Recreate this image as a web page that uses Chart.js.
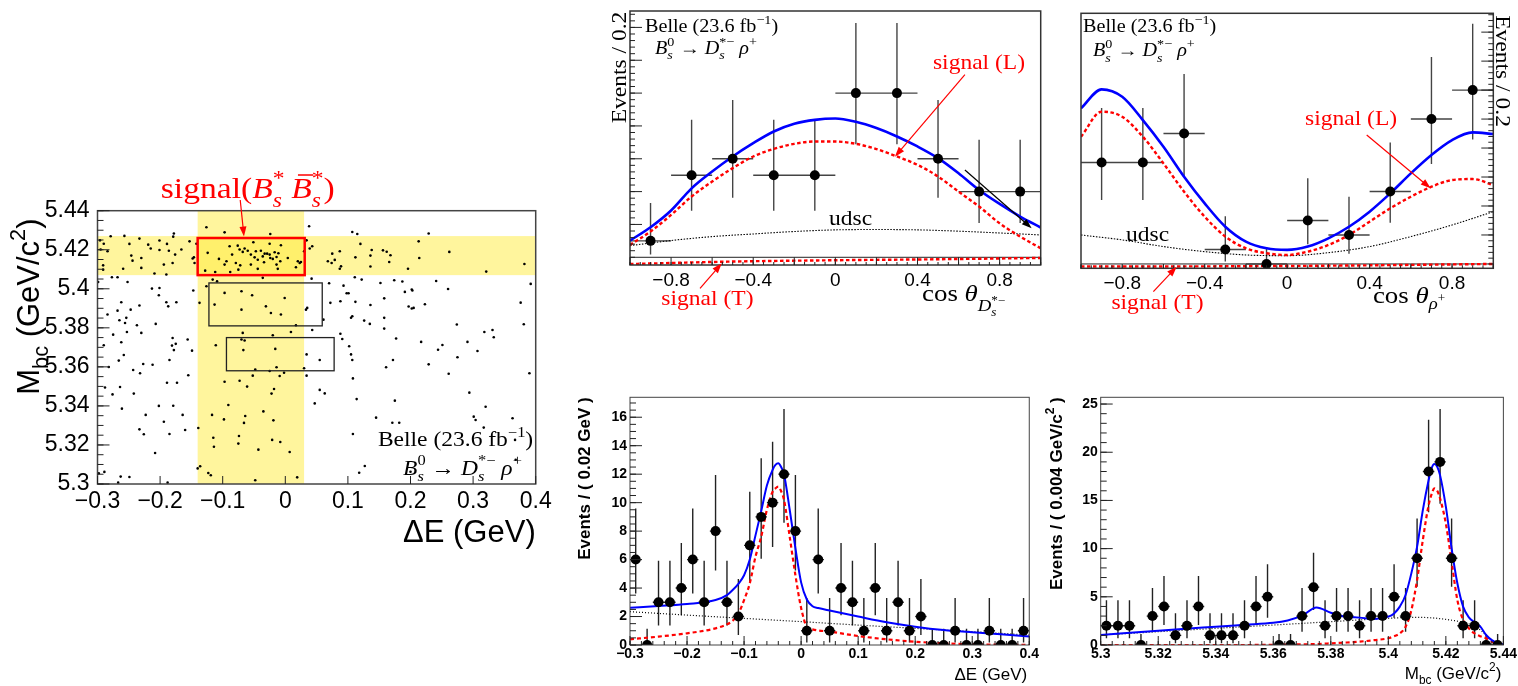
<!DOCTYPE html>
<html lang="en">
<head>
<meta charset="UTF-8">
<title>Belle Bs0 -> Ds*- rho+ (23.6 fb-1)</title>
<script src="https://cdn.jsdelivr.net/npm/chart.js"></script>
<style>
  html, body { margin: 0; padding: 0; background: #fff; }
  body { width: 1518px; height: 686px; position: relative; overflow: hidden; }
  canvas { position: absolute; }
</style>
</head>
<body>
<canvas id="cScat" width="560" height="400" style="left:0;top:160px"></canvas>
<canvas id="cHelD" width="500" height="330" style="left:560px;top:0"></canvas>
<canvas id="cHelR" width="458" height="330" style="left:1060px;top:0"></canvas>
<canvas id="cDE" width="480" height="306" style="left:560px;top:380px"></canvas>
<canvas id="cMbc" width="478" height="306" style="left:1040px;top:380px"></canvas>
<script>
// ---------- data ----------

// Mbc vs dE scatter, one [dE, Mbc] pair per event
const scatEvents = [
  [-0.126,5.4315],[-0.097,5.4289],[-0.024,5.4281],[-0.279,5.4269],[-0.257,5.4271],[-0.178,5.4283],[-0.179,5.4267],[-0.233,5.4257],
  [-0.201,5.4247],[-0.153,5.4243],[-0.296,5.4248],[-0.290,5.4231],[-0.249,5.4230],[-0.219,5.4226],[-0.189,5.4230],[-0.142,5.4231],
  [-0.215,5.4206],[-0.201,5.4199],[-0.166,5.4201],[-0.295,5.4201],[-0.284,5.4192],[-0.186,5.4195],[-0.176,5.4175],[-0.246,5.4170],
  [-0.230,5.4158],[-0.146,5.4161],[-0.148,5.4155],[-0.244,5.4144],[-0.180,5.4132],[-0.194,5.4124],[-0.291,5.4120],[-0.145,5.4132],
  [-0.230,5.4107],[-0.291,5.4098],[-0.209,5.4078],[-0.190,5.4073],[-0.259,5.4103],
  [-0.089,5.4218],[-0.076,5.4221],[-0.051,5.4238],[-0.025,5.4231],[-0.007,5.4223],[-0.065,5.4206],[-0.060,5.4195],[-0.047,5.4192],
  [-0.039,5.4195],[-0.033,5.4180],[-0.029,5.4180],[-0.025,5.4175],[-0.017,5.4187],[-0.011,5.4182],[-0.124,5.4184],[-0.106,5.4153],
  [-0.094,5.4141],[-0.085,5.4175],[-0.055,5.4175],[-0.049,5.4161],[-0.044,5.4149],[-0.036,5.4166],[-0.024,5.4158],[-0.020,5.4153],
  [-0.014,5.4163],[-0.008,5.4141],[-0.097,5.4124],[-0.079,5.4132],[-0.072,5.4120],[-0.055,5.4124],[-0.044,5.4102],[-0.034,5.4136],
  [-0.014,5.4124],[-0.012,5.4102],[-0.128,5.4093],[-0.112,5.4086],[-0.088,5.4086],[-0.075,5.4098],[0.004,5.4158],[-0.073,5.4201],
  [-0.068,5.4189],
  [-0.277,5.4059],[-0.268,5.4059],[-0.116,5.4047],[-0.109,5.4038],[-0.036,5.4056],[-0.252,5.4035],[-0.126,5.4013],[-0.213,5.4001],
  [-0.201,5.4004],[-0.299,5.4035],[-0.147,5.3991],[-0.097,5.3979],[-0.070,5.3987],[-0.053,5.3967],[-0.202,5.3967],[-0.190,5.3931],
  [-0.187,5.3910],[-0.174,5.3931],[-0.262,5.3931],[-0.268,5.3888],[-0.247,5.3893],[-0.233,5.3914],[-0.137,5.3928],[-0.113,5.3919],
  [-0.001,5.3953],[-0.031,5.3910],[-0.023,5.3876],[-0.070,5.3893],[-0.284,5.3868],[-0.254,5.3851],[-0.265,5.3839],[-0.007,5.3868],
  [-0.237,5.3813],[-0.256,5.3825],[-0.207,5.3820],[-0.230,5.3774],[-0.275,5.3765],[-0.253,5.3779],[-0.068,5.3774],[-0.070,5.3740],
  [-0.020,5.3762],[0.009,5.3779],[-0.180,5.3748],[-0.156,5.3740],[-0.262,5.3726],[-0.175,5.3718],[-0.111,5.3711],[-0.065,5.3735],
  [-0.290,5.3711],[-0.181,5.3709],
  [0.038,5.4320],[0.107,5.4291],[0.115,5.4281],[0.229,5.4283],[0.034,5.4248],[0.043,5.4218],[0.039,5.4206],[0.120,5.4230],
  [0.213,5.4243],[0.138,5.4199],[0.156,5.4197],[0.162,5.4190],[0.168,5.4172],[0.087,5.4192],[0.075,5.4180],[0.112,5.4161],
  [0.136,5.4170],[0.262,5.4189],[0.214,5.4158],[0.030,5.4192],[0.068,5.4141],[0.074,5.4132],[0.079,5.4148],[0.020,5.4141],
  [0.023,5.4132],[0.025,5.4137],[0.017,5.4110],[0.089,5.4115],[0.087,5.4103],[0.136,5.4114],[0.166,5.4137],[0.196,5.4103],
  [0.321,5.4088],[0.042,5.4052],[0.111,5.4059],[0.122,5.4047],[0.174,5.4044],[0.187,5.4037],[0.241,5.4040],[0.152,5.4030],
  [0.070,5.4028],[0.093,5.4016],[0.202,5.3996],[0.203,5.3991],[0.191,5.3984],[0.260,5.3999],[0.098,5.3977],[0.101,5.3977],
  [0.158,5.3951],[0.072,5.3928],[0.088,5.3936],[0.112,5.3933],[0.136,5.3917],[0.223,5.3921],[0.197,5.3909],[0.202,5.3899],
  [0.205,5.3902],[0.035,5.3902],[0.033,5.3893],[0.107,5.3859],[0.105,5.3852],[0.158,5.3851],[0.061,5.3842],[0.126,5.3837],
  [0.135,5.3820],[0.017,5.3813],[0.274,5.3817],[0.043,5.3789],[0.158,5.3796],[0.318,5.3779],[0.331,5.3789],[0.333,5.3752],
  [0.088,5.3770],[0.091,5.3743],[0.177,5.3745],[0.217,5.3728],[0.251,5.3712],[0.291,5.3728],[0.102,5.3706],
  [-0.178,5.3686],[-0.149,5.3683],[-0.258,5.3661],[-0.266,5.3632],[-0.185,5.3635],[-0.227,5.3615],[-0.212,5.3611],[-0.282,5.3599],
  [-0.243,5.3584],[-0.232,5.3567],[-0.155,5.3557],[-0.067,5.3686],[-0.016,5.3692],[-0.048,5.3586],[-0.014,5.3598],[-0.025,5.3579],
  [-0.002,5.3570],[-0.052,5.3555],[-0.009,5.3553],[-0.097,5.3524],[-0.073,5.3529],[-0.189,5.3519],[-0.173,5.3519],[-0.061,5.3499],
  [-0.264,5.3497],[-0.288,5.3494],[-0.018,5.3487],[-0.242,5.3463],[-0.276,5.3459],[-0.022,5.3463],[-0.202,5.3400],[-0.179,5.3401],
  [-0.261,5.3386],[-0.091,5.3405],[-0.035,5.3372],[-0.223,5.3354],[-0.164,5.3354],[-0.117,5.3354],[-0.064,5.3348],[-0.098,5.3331],
  [-0.019,5.3326],[-0.194,5.3319],[-0.066,5.3313],[-0.139,5.3287],[-0.233,5.3280],[-0.160,5.3277],[-0.226,5.3255],[-0.185,5.3256],
  [-0.074,5.3246],[-0.115,5.3237],[-0.021,5.3226],[-0.008,5.3215],[-0.075,5.3207],[-0.114,5.3191],[-0.043,5.3176],[0.007,5.3164],
  [-0.208,5.3159],[-0.136,5.3091],[-0.140,5.3080],[-0.289,5.3062],[-0.298,5.3055],[-0.123,5.3056],[-0.119,5.3045],[-0.263,5.3038],
  [-0.249,5.3036],[-0.048,5.3019],[-0.188,5.3007],[-0.267,5.3007],
  [0.034,5.3664],[0.055,5.3635],[0.030,5.3593],[0.034,5.3555],[0.105,5.3664],[0.107,5.3635],[0.172,5.3635],[0.161,5.3598],
  [0.244,5.3688],[0.275,5.3649],[0.307,5.3681],[0.229,5.3613],[0.261,5.3565],[0.108,5.3541],[0.055,5.3482],[0.063,5.3464],
  [0.047,5.3413],[0.114,5.3435],[0.175,5.3427],[0.294,5.3468],[0.320,5.3396],[0.145,5.3340],[0.171,5.3314],[0.182,5.3314],
  [0.301,5.3345],[0.304,5.3328],[0.317,5.3289],[0.108,5.3256],[0.127,5.3092],[0.118,5.3058],[0.019,5.3034],[0.200,5.3063],
  [0.382,5.4127],[0.392,5.4025],[0.376,5.3929],[0.381,5.3818],[0.390,5.3567],[0.363,5.3337],[0.367,5.3226],[0.368,5.3124]
];
const bandDE = [-0.14, 0.03];           // signal dE window
const bandMbc = [5.407, 5.427];         // signal Mbc window
const sigBox = [-0.14, 0.031, 5.407, 5.426];   // dE0, dE1, Mbc0, Mbc1
const sideBox1 = [-0.122, 0.059, 5.381, 5.403];
const sideBox2 = [-0.094, 0.078, 5.358, 5.375];
const scatXTicks = [-0.3, -0.2, -0.1, 0, 0.1, 0.2, 0.3, 0.4];
const scatYTicks = [5.3, 5.32, 5.34, 5.36, 5.38, 5.4, 5.42, 5.44];

// helicity distributions (bins of 0.2)
const helBins = [-0.9, -0.7, -0.5, -0.3, -0.1, 0.1, 0.3, 0.5, 0.7, 0.9];
const helDsCounts = [1, 5, 6, 5, 5, 10, 10, 6, 4, 4];
const helRhoCounts = [7, 7, 9, 1, 0, 3, 2, 5, 10, 12];
const helCurveX = [-1, -0.9, -0.8, -0.7, -0.6, -0.5, -0.4, -0.3, -0.2, -0.1, 0, 0.1, 0.2, 0.3, 0.4, 0.5, 0.6, 0.7, 0.8, 0.9, 1];
const helDsTotal = [1.02, 1.83, 2.85, 4.2, 5.22, 6.14, 6.95, 7.66, 8.13, 8.37, 8.45, 8.25, 7.87, 7.36, 6.75, 6.04, 5.12, 4.1, 3.25, 2.48, 1.81];
const helDsSigL = [0.75, 1.57, 2.58, 3.7, 4.61, 5.43, 6.14, 6.6, 6.91, 7.05, 7.05, 6.91, 6.59, 6.14, 5.63, 4.92, 4.0, 3.09, 2.07, 1.26, 0.55];
const helRhoTotal = [10.74, 12.05, 11.54, 9.93, 8.09, 6.02, 4.18, 2.57, 1.54, 1.08, 0.97, 1.2, 1.77, 2.57, 3.61, 4.87, 6.25, 7.52, 8.55, 9.08, 8.97];
const helRhoSigL = [8.78, 10.51, 10.16, 8.78, 6.94, 4.99, 3.26, 1.89, 1.08, 0.74, 0.62, 0.85, 1.31, 2.0, 2.92, 3.84, 4.64, 5.33, 5.79, 5.86, 5.45];
const helBkgX = [-1, -0.8, -0.6, -0.4, -0.2, 0, 0.2, 0.4, 0.6, 0.8, 1];
const helDsUdsc = [0.71, 1.02, 1.26, 1.42, 1.57, 1.67, 1.69, 1.67, 1.59, 1.48, 1.36];
const helRhoUdsc = [2.0, 1.66, 1.2, 0.85, 0.62, 0.57, 0.78, 1.2, 1.89, 2.69, 3.61];
const helSigTX = [-1, -0.5, 0, 0.5, 1];
const helDsSigT = [-0.41, -0.26, -0.18, -0.12, -0.04];
const helRhoSigT = [-0.18, -0.17, -0.14, -0.08, 0.0];
const helXTicks = [-0.8, -0.4, 0, 0.4, 0.8];

// dE projection (bins of 0.02 GeV)
const deBins = [-0.29, -0.27, -0.25, -0.23, -0.21, -0.19, -0.17, -0.15, -0.13, -0.11, -0.09, -0.07, -0.05, -0.03, -0.01,
                0.01, 0.03, 0.05, 0.07, 0.09, 0.11, 0.13, 0.15, 0.17, 0.19, 0.21, 0.23, 0.25, 0.27, 0.29, 0.31, 0.33, 0.35, 0.37, 0.39];
const deCounts = [6, 0, 3, 3, 4, 6, 3, 8, 3, 2, 7, 9, 10, 12, 8, 1, 6, 1, 4, 3, 1, 4, 1, 3, 1, 2, 0, 0, 1, 0, 0, 1, 0, 0, 1];
const deCurveX = [-0.3, -0.25, -0.2, -0.15, -0.13, -0.12, -0.11, -0.1, -0.09, -0.08, -0.07, -0.06, -0.05, -0.045, -0.04, -0.035,
                  -0.03, -0.02, -0.01, 0, 0.01, 0.02, 0.03, 0.05, 0.1, 0.15, 0.2, 0.25, 0.3, 0.35, 0.4];
const deTotal = [2.62, 2.74, 2.88, 3.16, 3.5, 3.86, 4.3, 4.9, 6.0, 7.7, 9.4, 11.2, 12.3, 12.65, 12.76, 12.5,
                 12.0, 9.5, 6.8, 4.4, 3.2, 2.72, 2.6, 2.42, 2.0, 1.6, 1.29, 1.05, 0.89, 0.75, 0.59];
const deSig = [0.4, 0.59, 0.82, 1.17, 1.45, 1.7, 2.2, 3.16, 4.33, 6.2, 7.6, 9.5, 10.77, 11.0, 11.12, 10.8,
               10.2, 7.6, 4.9, 2.6, 1.29, 1.1, 1.02, 0.94, 0.63, 0.4, 0.23, 0.12, 0.05, 0.02, 0.0];
const deBkgX = [-0.3, -0.2, -0.1, 0, 0.1, 0.2, 0.3, 0.4];
const deBkg = [2.34, 2.1, 1.87, 1.64, 1.4, 1.17, 0.94, 0.7];
const deXTicks = [-0.3, -0.2, -0.1, 0, 0.1, 0.2, 0.3, 0.4];
const deYTicks = [0, 2, 4, 6, 8, 10, 12, 14, 16];

// Mbc projection (bins of 0.004 GeV/c2)
const mbcBins = [5.302, 5.306, 5.310, 5.314, 5.318, 5.322, 5.326, 5.330, 5.334, 5.338, 5.342, 5.346, 5.350, 5.354, 5.358, 5.362, 5.366, 5.370,
                 5.374, 5.378, 5.382, 5.386, 5.390, 5.394, 5.398, 5.402, 5.406, 5.410, 5.414, 5.418, 5.422, 5.426, 5.430, 5.434, 5.438];
const mbcCounts = [2, 2, 2, 0, 3, 4, 1, 2, 4, 1, 1, 1, 2, 4, 5, 0, 0, 3, 6, 2, 3, 3, 2, 3, 3, 5, 3, 9, 18, 19, 9, 2, 2, 0, 0];
const mbcCurveX = [5.3, 5.32, 5.34, 5.35, 5.36, 5.365, 5.37, 5.375, 5.38, 5.385, 5.39, 5.395, 5.4, 5.402, 5.404, 5.406, 5.408, 5.41,
                   5.412, 5.414, 5.415, 5.416, 5.417, 5.418, 5.42, 5.422, 5.424, 5.426, 5.428, 5.43, 5.432, 5.434, 5.436, 5.438, 5.44];
const mbcTotal = [1.04, 1.49, 1.9, 2.1, 2.3, 2.55, 3.04, 3.9, 3.35, 2.94, 2.84, 2.7, 2.94, 3.28, 3.98, 5.19, 7.43, 10.2,
                  14.0, 17.1, 18.3, 18.78, 18.5, 17.6, 14.35, 10.03, 6.4, 3.98, 2.87, 2.35, 1.9, 1.04, 0.5, 0.2, 0.07];
const mbcSig = [0, 0, 0, 0, 0.02, 0.04, 0.07, 0.1, 0.17, 0.25, 0.35, 0.5, 0.7, 0.9, 1.2, 1.9, 3.6, 6.74,
                10.9, 14.5, 15.6, 16.25, 16.0, 15.2, 12.6, 8.64, 4.67, 2.6, 1.73, 1.2, 0.9, 0.7, 0.35, 0.15, 0.07];
const mbcBkgX = [5.3, 5.32, 5.34, 5.36, 5.38, 5.39, 5.4, 5.41, 5.415, 5.42, 5.425, 5.428, 5.43, 5.432, 5.434, 5.436, 5.438, 5.44];
const mbcBkg = [1.04, 1.38, 1.73, 2.07, 2.42, 2.6, 2.77, 2.87, 2.82, 2.66, 2.42, 2.2, 1.9, 1.55, 1.0, 0.5, 0.2, 0];
const mbcXTicks = [5.3, 5.32, 5.34, 5.36, 5.38, 5.4, 5.42, 5.44];
const mbcYTicks = [0, 5, 10, 15, 20, 25];

// 68% central Poisson intervals for n = 0..19 (as RooFit draws them)
const poisDn = [0, 0.827, 1.292, 1.633, 1.914, 2.160, 2.380, 2.582, 2.768, 2.944, 3.109, 3.267, 3.418, 3.563, 3.703, 3.839, 3.970, 4.098, 4.222, 4.343];
const poisUp = [1.148, 2.300, 2.638, 2.918, 3.163, 3.382, 3.584, 3.772, 3.949, 4.116, 4.276, 4.428, 4.575, 4.717, 4.854, 4.987, 5.116, 5.242, 5.365, 5.484];

// ---------- helpers ----------
const SERIF = '"Liberation Serif", "DejaVu Serif", serif';
const SANS = '"Liberation Sans", Arial, sans-serif';
const RED = '#ff0000', BLUE = '#0000ff';

function range(a, b, step) {
  const out = [];
  for (let v = a; v <= b + step * 1e-6; v += step) out.push(+v.toFixed(6));
  return out;
}
function fmtTick(v) { return String(+(+v).toFixed(4)).replace('-', '\u2212'); }
function pts(xs, ys) { return xs.map((x, i) => ({ x, y: ys[i] })); }

// text with sub/superscripts, anchored at its vertical centre
function drawRich(ctx, items, px, py, o) {
  const size = o.size, fam = o.family || SERIF, hs = o.hs || 1, wt = o.weight || 'normal';
  const fontOf = (it, s) => (it ? 'italic ' : 'normal ') + wt + ' ' + s + 'px ' + fam;
  if (typeof items === 'string') items = [{ t: items }];
  const runs = [];
  let w = 0;
  for (const p of items) {
    const s = size * (p.scale || 1), dy = (p.dy || 0) * size;
    let f = fontOf(p.it, s);
    ctx.font = f;
    const bw = p.t ? ctx.measureText(p.t).width : 0;
    if (p.t) runs.push({ t: p.t, f, x: w, y: dy, bar: p.bar ? bw : 0, s });
    w += bw;
    let adv = 0;
    if (p.sub) {
      f = fontOf(p.subIt, s * 0.7); ctx.font = f;
      adv = Math.max(adv, ctx.measureText(p.sub).width);
      runs.push({ t: p.sub, f, x: w, y: dy + 0.3 * s });
    }
    if (p.sup) {
      f = fontOf(p.supIt, s * 0.7); ctx.font = f;
      adv = Math.max(adv, ctx.measureText(p.sup).width);
      runs.push({ t: p.sup, f, x: w, y: dy - 0.45 * s });
    }
    w += adv;
  }
  ctx.save();
  ctx.translate(px, py);
  if (o.rot) ctx.rotate(o.rot);
  ctx.scale(hs, 1);
  const x0 = o.align === 'right' ? -w : o.align === 'center' ? -w / 2 : 0;
  const base = 0.34 * size;
  ctx.fillStyle = o.color || '#000';
  ctx.textAlign = 'left';
  ctx.textBaseline = 'alphabetic';
  for (const r of runs) {
    ctx.font = r.f;
    ctx.fillText(r.t, x0 + r.x, base + r.y);
    if (r.bar) ctx.fillRect(x0 + r.x + 0.2 * r.s, base + r.y - 0.8 * r.s, r.bar * 0.75, Math.max(1, 0.05 * r.s));
  }
  ctx.restore();
}

// per-canvas decorations: bands, boxes, frame, inside ticks, arrows, labels, error bars
const decoCfg = {};
const deco = {
  id: 'deco',
  beforeDatasetsDraw(chart) {
    const o = decoCfg[chart.canvas.id];
    const { ctx, chartArea: a } = chart, x = chart.scales.x, y = chart.scales.y;
    ctx.save();
    ctx.beginPath();
    ctx.rect(a.left, a.top, a.right - a.left, a.bottom - a.top);
    ctx.clip();
    (o.bands || []).forEach(b => {
      ctx.fillStyle = b.color;
      if (b.x) {
        const p0 = x.getPixelForValue(b.x[0]), p1 = x.getPixelForValue(b.x[1]);
        ctx.fillRect(p0, a.top, p1 - p0, a.bottom - a.top);
      } else {
        const p0 = y.getPixelForValue(b.y[1]), p1 = y.getPixelForValue(b.y[0]);
        ctx.fillRect(a.left, p0, a.right - a.left, p1 - p0);
      }
    });
    (o.hlines || []).forEach(h => {
      const p = y.getPixelForValue(h.y);
      ctx.strokeStyle = h.color; ctx.lineWidth = h.width;
      ctx.beginPath(); ctx.moveTo(a.left, p); ctx.lineTo(a.right, p); ctx.stroke();
    });
    chart.data.datasets.forEach(ds => {
      if (!ds.errY) return;
      ctx.strokeStyle = ds.errColor; ctx.lineWidth = ds.errWidth;
      ctx.beginPath();
      ds.data.forEach((p, i) => {
        const px = x.getPixelForValue(p.x), py = y.getPixelForValue(p.y);
        ctx.moveTo(px, y.getPixelForValue(p.y - ds.errY.lo[i]));
        ctx.lineTo(px, y.getPixelForValue(p.y + ds.errY.hi[i]));
        ctx.moveTo(x.getPixelForValue(p.x - ds.errX), py);
        ctx.lineTo(x.getPixelForValue(p.x + ds.errX), py);
      });
      ctx.stroke();
    });
    ctx.restore();
  },
  afterDatasetsDraw(chart) {
    const o = decoCfg[chart.canvas.id];
    const { ctx, chartArea: a } = chart, x = chart.scales.x, y = chart.scales.y;
    ctx.save();
    (o.rects || []).forEach(r => {
      const X0 = x.getPixelForValue(r.box[0]), X1 = x.getPixelForValue(r.box[1]);
      const Y0 = y.getPixelForValue(r.box[3]), Y1 = y.getPixelForValue(r.box[2]);
      ctx.strokeStyle = r.color; ctx.lineWidth = r.width;
      ctx.strokeRect(X0, Y0, X1 - X0, Y1 - Y0);
    });
    ctx.strokeStyle = o.frame.color; ctx.lineWidth = o.frame.width;
    ctx.strokeRect(a.left, a.top, a.right - a.left, a.bottom - a.top);
    ctx.strokeStyle = '#222'; ctx.lineWidth = 1;
    (o.ticks || []).forEach(t => {
      const sc = t.axis === 'x' ? x : y;
      ctx.beginPath();
      t.vals.forEach(v => {
        if (v < sc.min - 1e-9 || v > sc.max + 1e-9) return;
        const p = sc.getPixelForValue(v);
        if (t.side === 'bottom') { ctx.moveTo(p, a.bottom); ctx.lineTo(p, a.bottom - t.len); }
        else if (t.side === 'left') { ctx.moveTo(a.left, p); ctx.lineTo(a.left + t.len, p); }
        else { ctx.moveTo(a.right, p); ctx.lineTo(a.right - t.len, p); }
      });
      ctx.stroke();
    });
    (o.arrows || []).forEach(r => {
      const x1 = x.getPixelForValue(r.from[0]), y1 = y.getPixelForValue(r.from[1]);
      const x2 = x.getPixelForValue(r.to[0]), y2 = y.getPixelForValue(r.to[1]);
      const ang = Math.atan2(y2 - y1, x2 - x1), L = 10, W = 3.5;
      const c = Math.cos(ang), s = Math.sin(ang);
      ctx.strokeStyle = ctx.fillStyle = r.color; ctx.lineWidth = 1.2;
      ctx.beginPath(); ctx.moveTo(x1, y1); ctx.lineTo(x2 - L * 0.8 * c, y2 - L * 0.8 * s); ctx.stroke();
      ctx.beginPath(); ctx.moveTo(x2, y2);
      ctx.lineTo(x2 - L * c + W * s, y2 - L * s - W * c);
      ctx.lineTo(x2 - L * c - W * s, y2 - L * s + W * c);
      ctx.closePath(); ctx.fill();
    });
    (o.texts || []).forEach(t => drawRich(ctx, t.items, x.getPixelForValue(t.at[0]), y.getPixelForValue(t.at[1]), t));
    ctx.restore();
  }
};

function axis(o) {
  return {
    type: 'linear', position: o.pos, min: o.min, max: o.max,
    grid: { display: false, drawTicks: false }, border: { display: false },
    afterFit: s => { if (s.isHorizontal()) s.height = o.size; else s.width = o.size; },
    afterBuildTicks: s => { s.ticks = (o.labels || []).map(v => ({ value: v })); },
    ticks: { display: !!o.labels, autoSkip: false, maxRotation: 0, padding: o.pad || 3, color: '#000',
             font: o.font, callback: v => fmtTick(v) }
  };
}

function plot(id, pad, xAx, yAx, datasets) {
  return new Chart(document.getElementById(id), {
    type: 'scatter',
    data: { datasets },
    options: {
      responsive: false, animation: false, devicePixelRatio: 1,
      layout: { padding: pad },
      plugins: { legend: { display: false }, tooltip: { enabled: false } },
      scales: { x: axis(xAx), y: axis(yAx) }
    },
    plugins: [deco]
  });
}

function dataSet(bins, counts, halfW, r, errColor) {
  return { data: pts(bins, counts), pointRadius: r, pointBackgroundColor: '#000', pointBorderWidth: 0,
           errY: { lo: counts.map(n => poisDn[n]), hi: counts.map(n => poisUp[n]) }, errX: halfW,
           errColor, errWidth: 1.4 };
}
function curve(xs, ys, color, width, dash) {
  return { type: 'line', data: pts(xs, ys), borderColor: color, borderWidth: width, borderDash: dash || [],
           pointRadius: 0, fill: false, cubicInterpolationMode: 'monotone' };
}

const decayLabel = [{ t: 'B', it: 1, sub: 's', subIt: 1, sup: '0' }, { t: ' \u2192 ' },
                    { t: 'D', it: 1, sub: 's', subIt: 1, sup: '*\u2212' }, { t: ' ' }, { t: '\u03c1', it: 1, sup: '+' }];
const belleLabel = [{ t: 'Belle (23.6 fb' }, { t: '', sup: '\u22121' }, { t: ')' }];
const HS = 1.12;

// ---------- Mbc vs dE scatter ----------
const YEL = 'rgba(255,235,60,0.5)';
decoCfg.cScat = {
  bands: [{ x: bandDE, color: YEL }, { y: bandMbc, color: YEL }],
  rects: [{ box: sigBox, color: RED, width: 2.5 }, { box: sideBox1, color: '#222', width: 1.3 }, { box: sideBox2, color: '#222', width: 1.3 }],
  frame: { color: '#444', width: 1.5 },
  ticks: [{ axis: 'y', side: 'left', vals: scatYTicks, len: 12 }, { axis: 'y', side: 'left', vals: range(5.3, 5.44, 0.005), len: 6 },
          { axis: 'x', side: 'bottom', vals: scatXTicks, len: 8 }],
  arrows: [{ from: [-0.072, 5.4455], to: [-0.066, 5.4268], color: RED }],
  texts: [
    { at: [-0.06, 5.4516], size: 30, color: RED, align: 'center', hs: HS,
      items: [{ t: 'signal(' }, { t: 'B', it: 1, sub: 's', subIt: 1, sup: '*' }, { t: '\u2009' },
              { t: 'B', it: 1, bar: 1, sub: 's', subIt: 1, sup: '*' }, { t: ')' }] },
    { at: [0.396, 5.3231], size: 21, align: 'right', hs: HS, items: belleLabel },
    { at: [0.378, 5.3083], size: 21, align: 'right', hs: HS, items: decayLabel },
    { at: [0.4, 5.2755], size: 31, align: 'right', family: SANS, items: '\u0394E (GeV)' },
    { at: [-0.41, 5.436], size: 31, align: 'right', family: SANS, rot: -Math.PI / 2,
      items: [{ t: 'M', sub: 'bc' }, { t: ' (GeV/c' }, { t: '', sup: '2' }, { t: ')' }] }
  ]
};
plot('cScat', { left: 0, top: 50.7, right: 24.3, bottom: 0 },
  { pos: 'bottom', min: -0.3, max: 0.4, size: 76, labels: scatXTicks, pad: 4, font: { family: SANS, size: 23 } },
  { pos: 'left', min: 5.3, max: 5.44, size: 97.5, labels: scatYTicks, pad: 8, font: { family: SANS, size: 23 } },
  [{ data: scatEvents.map(e => ({ x: e[0], y: e[1] })), pointRadius: 1.3, pointBackgroundColor: '#000', pointBorderWidth: 0 }]);

// ---------- cos theta(Ds*) ----------
function helDeco(side, yMax, tickLenX, t) {
  return {
    hlines: [{ y: 0, color: '#222', width: 1 }],
    frame: { color: '#333', width: 1.5 },
    ticks: [{ axis: 'y', side, vals: range(2, 16, 2), len: 12 }, { axis: 'y', side, vals: range(0, yMax, 0.4), len: 5 },
            { axis: 'x', side: 'bottom', vals: range(-1, 1, 0.2), len: tickLenX }, { axis: 'x', side: 'bottom', vals: range(-1, 1, 0.05), len: 3 }],
    arrows: t.arrows,
    texts: t.texts
  };
}
decoCfg.cHelD = helDeco('left', 15, 7.7, {
  arrows: [{ from: [0.631, 11.12], to: [0.29, 6.13], color: RED }, { from: [-0.659, -1.89], to: [-0.553, -0.37], color: RED },
           { from: [0.631, 5.32], to: [0.956, 1.77], color: '#000' }],
  texts: [
    { at: [-0.927, 14.1], size: 18, hs: HS, items: belleLabel },
    { at: [-0.878, 12.76], size: 18, hs: HS, items: decayLabel },
    { at: [0.6995, 11.93], size: 21, hs: HS, color: RED, align: 'center', items: 'signal (L)' },
    { at: [0.074, 2.4], size: 21, hs: HS, align: 'center', items: 'udsc' },
    { at: [-0.623, -2.48], size: 21, hs: HS, color: RED, align: 'center', items: 'signal (T)' },
    { at: [0.422, -2.18], size: 24, hs: HS,
      items: [{ t: 'cos ' }, { t: '\u03b8', it: 1 }, { t: 'D', it: 1, scale: 0.7, dy: 0.42, sub: 's', subIt: 1, sup: '*\u2212' }] },
    { at: [-1.054, 14.96], size: 21, hs: HS, align: 'right', rot: -Math.PI / 2, items: 'Events / 0.2' }
  ]
});
plot('cHelD', { left: 0, top: 11, right: 19.3, bottom: 0 },
  { pos: 'bottom', min: -1, max: 1, size: 65, labels: helXTicks, pad: 4, font: { family: SANS, size: 19 } },
  { pos: 'left', min: -0.47, max: 15, size: 70 },
  [dataSet(helBins, helDsCounts, 0.1, 5, '#444'),
   curve(helCurveX, helDsTotal, BLUE, 2.6),
   curve(helCurveX, helDsSigL, RED, 2.4, [3.5, 2.5]),
   curve(helBkgX, helDsUdsc, '#000', 1.1, [1.5, 1.5]),
   curve(helSigTX, helDsSigT, RED, 2.4, [3.5, 2.5])]);

// ---------- cos theta(rho) ----------
decoCfg.cHelR = helDeco('right', 17.3, 4.3, {
  arrows: [{ from: [0.386, 8.9], to: [0.696, 5.22], color: RED }, { from: [-0.649, -1.91], to: [-0.536, -0.19], color: RED }],
  texts: [
    { at: [-0.99, 16.41], size: 18, hs: HS, items: belleLabel },
    { at: [-0.942, 14.76], size: 18, hs: HS, items: decayLabel },
    { at: [0.31, 10.07], size: 21, hs: HS, color: RED, align: 'center', items: 'signal (L)' },
    { at: [-0.677, 2.07], size: 21, hs: HS, align: 'center', items: 'udsc' },
    { at: [-0.629, -2.6], size: 21, hs: HS, color: RED, align: 'center', items: 'signal (T)' },
    { at: [0.416, -2.14], size: 24, hs: HS,
      items: [{ t: 'cos ' }, { t: '\u03b8', it: 1 }, { t: '\u03c1', it: 1, scale: 0.7, dy: 0.25, sup: '+' }] },
    { at: [1.047, 17.17], size: 21, hs: HS, align: 'left', rot: Math.PI / 2, items: 'Events / 0.2' }
  ]
});
plot('cHelR', { left: 21, top: 13.3, right: 0, bottom: 0 },
  { pos: 'bottom', min: -1, max: 1, size: 61.7, labels: helXTicks, pad: 4, font: { family: SANS, size: 19 } },
  { pos: 'right', min: -0.3, max: 17.3, size: 24.7 },
  [dataSet(helBins, helRhoCounts, 0.1, 5, '#444'),
   curve(helCurveX, helRhoTotal, BLUE, 2.6),
   curve(helCurveX, helRhoSigL, RED, 2.4, [3.5, 2.5]),
   curve(helBkgX, helRhoUdsc, '#000', 1.1, [1.5, 1.5]),
   curve(helSigTX, helRhoSigT, RED, 2.4, [3.5, 2.5])]);

// ---------- dE projection ----------
decoCfg.cDE = {
  frame: { color: '#444', width: 1 },
  ticks: [{ axis: 'y', side: 'left', vals: deYTicks, len: 12 }, { axis: 'y', side: 'left', vals: range(0, 17, 0.5), len: 6 },
          { axis: 'x', side: 'bottom', vals: deXTicks, len: 9 }, { axis: 'x', side: 'bottom', vals: range(-0.3, 0.4, 0.02), len: 4 }],
  texts: [
    { at: [0.3965, -2.04], size: 17, family: SANS, align: 'right', items: '\u0394E (GeV)' },
    { at: [-0.3807, 17.4], size: 17, family: SANS, weight: 'bold', align: 'right', rot: -Math.PI / 2, items: 'Events / ( 0.02 GeV )' }
  ]
};
plot('cDE', { left: 0, top: 17.3, right: 5, bottom: 0 },
  { pos: 'bottom', min: -0.3, max: 0.4, size: 41, labels: deXTicks, pad: 1, font: { family: SANS, size: 14, weight: 'bold' } },
  { pos: 'left', min: 0, max: 17.4, size: 70, labels: deYTicks, pad: 3, font: { family: SANS, size: 14, weight: 'bold' } },
  [dataSet(deBins, deCounts, 0.01, 5, '#222'),
   curve(deCurveX, deTotal, BLUE, 2),
   curve(deCurveX, deSig, RED, 2.2, [4, 3]),
   curve(deBkgX, deBkg, '#000', 1.2, [1, 2])]);

// ---------- Mbc projection ----------
decoCfg.cMbc = {
  frame: { color: '#444', width: 1 },
  ticks: [{ axis: 'y', side: 'left', vals: mbcYTicks, len: 12 }, { axis: 'y', side: 'left', vals: range(0, 25, 1), len: 6 },
          { axis: 'x', side: 'bottom', vals: mbcXTicks, len: 9 }, { axis: 'x', side: 'bottom', vals: range(5.3, 5.44, 0.004), len: 4 }],
  texts: [
    { at: [5.4393, -2.9], size: 17, family: SANS, align: 'right',
      items: [{ t: 'M', sub: 'bc' }, { t: ' (GeV/c' }, { t: '', sup: '2' }, { t: ')' }] },
    { at: [5.2845, 25.7], size: 17, family: SANS, weight: 'bold', align: 'right', rot: -Math.PI / 2,
      items: [{ t: 'Events / ( 0.004 GeV/c' }, { t: '', sup: '2' }, { t: ' )' }] }
  ]
};
plot('cMbc', { left: 0, top: 17.3, right: 12.7, bottom: 0 },
  { pos: 'bottom', min: 5.3, max: 5.44, size: 41, labels: mbcXTicks, pad: 1, font: { family: SANS, size: 14, weight: 'bold' } },
  { pos: 'left', min: 0, max: 25.7, size: 60.7, labels: mbcYTicks, pad: 3, font: { family: SANS, size: 14, weight: 'bold' } },
  [dataSet(mbcBins, mbcCounts, 0.002, 5, '#222'),
   curve(mbcCurveX, mbcTotal, BLUE, 2),
   curve(mbcCurveX, mbcSig, RED, 2.2, [4, 3]),
   curve(mbcBkgX, mbcBkg, '#000', 1.2, [1, 2])]);
</script>
</body>
</html>
